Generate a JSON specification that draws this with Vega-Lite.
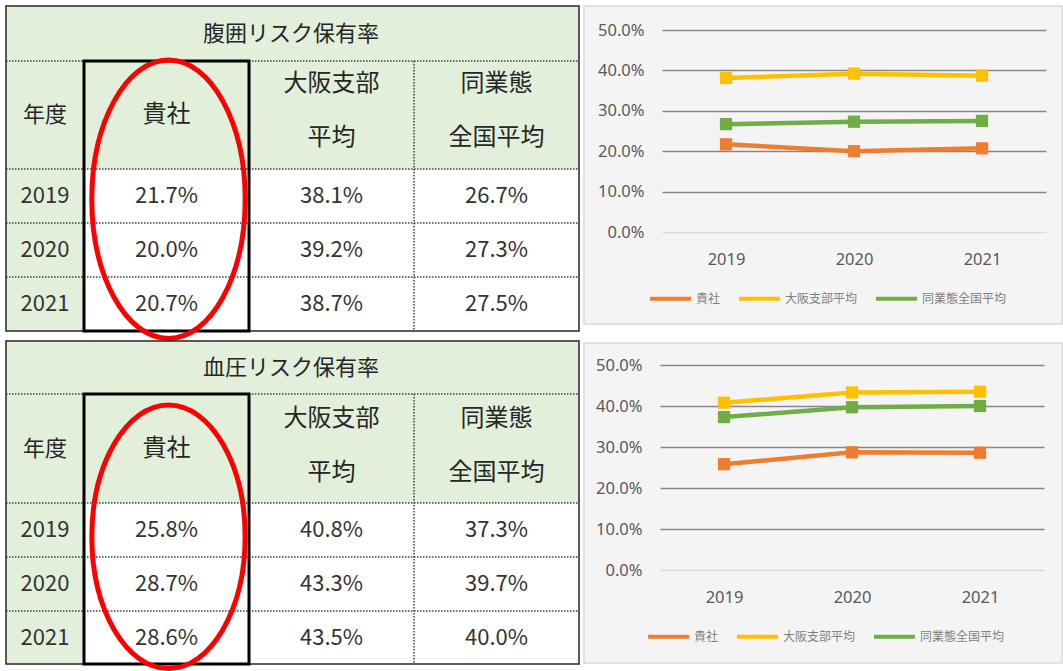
{
  "$schema": "https://vega.github.io/schema/vega-lite/v6.json",
  "background": "white",
  "padding": {"left": 5, "top": 5, "right": 0, "bottom": 0},
  "datasets": {
    "cells": [
      {"tbl": "A", "kind": "title", "c0": 0, "c1": 4, "r0": 0, "r1": 1, "cm": 2.255, "rm": 0.5, "label": "腹囲リスク保有率"},
      {"tbl": "A", "kind": "corner", "c0": 0, "c1": 1, "r0": 1, "r1": 2, "cm": 0.5, "rm": 1.5, "label": "年度"},
      {"tbl": "A", "kind": "head", "c0": 1, "c1": 2, "r0": 1, "r1": 2, "cm": 1.5, "rm": 1.5, "label": "貴社"},
      {"tbl": "A", "kind": "head2", "c0": 2, "c1": 3, "r0": 1, "r1": 2, "cm": 2.5, "rm": 1.5, "label": "大阪支部\n平均"},
      {"tbl": "A", "kind": "head2", "c0": 3, "c1": 4, "r0": 1, "r1": 2, "cm": 3.5, "rm": 1.5, "label": "同業態\n全国平均"},
      {"tbl": "A", "kind": "year", "c0": 0, "c1": 1, "r0": 2, "r1": 3, "cm": 0.5, "rm": 2.5, "label": "2019"},
      {"tbl": "A", "kind": "value", "c0": 1, "c1": 2, "r0": 2, "r1": 3, "cm": 1.5, "rm": 2.5, "label": "21.7%"},
      {"tbl": "A", "kind": "value", "c0": 2, "c1": 3, "r0": 2, "r1": 3, "cm": 2.5, "rm": 2.5, "label": "38.1%"},
      {"tbl": "A", "kind": "value", "c0": 3, "c1": 4, "r0": 2, "r1": 3, "cm": 3.5, "rm": 2.5, "label": "26.7%"},
      {"tbl": "A", "kind": "year", "c0": 0, "c1": 1, "r0": 3, "r1": 4, "cm": 0.5, "rm": 3.5, "label": "2020"},
      {"tbl": "A", "kind": "value", "c0": 1, "c1": 2, "r0": 3, "r1": 4, "cm": 1.5, "rm": 3.5, "label": "20.0%"},
      {"tbl": "A", "kind": "value", "c0": 2, "c1": 3, "r0": 3, "r1": 4, "cm": 2.5, "rm": 3.5, "label": "39.2%"},
      {"tbl": "A", "kind": "value", "c0": 3, "c1": 4, "r0": 3, "r1": 4, "cm": 3.5, "rm": 3.5, "label": "27.3%"},
      {"tbl": "A", "kind": "year", "c0": 0, "c1": 1, "r0": 4, "r1": 5, "cm": 0.5, "rm": 4.5, "label": "2021"},
      {"tbl": "A", "kind": "value", "c0": 1, "c1": 2, "r0": 4, "r1": 5, "cm": 1.5, "rm": 4.5, "label": "20.7%"},
      {"tbl": "A", "kind": "value", "c0": 2, "c1": 3, "r0": 4, "r1": 5, "cm": 2.5, "rm": 4.5, "label": "38.7%"},
      {"tbl": "A", "kind": "value", "c0": 3, "c1": 4, "r0": 4, "r1": 5, "cm": 3.5, "rm": 4.5, "label": "27.5%"},
      {"tbl": "B", "kind": "title", "c0": 0, "c1": 4, "r0": 0, "r1": 1, "cm": 2.255, "rm": 0.5, "label": "血圧リスク保有率"},
      {"tbl": "B", "kind": "corner", "c0": 0, "c1": 1, "r0": 1, "r1": 2, "cm": 0.5, "rm": 1.5, "label": "年度"},
      {"tbl": "B", "kind": "head", "c0": 1, "c1": 2, "r0": 1, "r1": 2, "cm": 1.5, "rm": 1.5, "label": "貴社"},
      {"tbl": "B", "kind": "head2", "c0": 2, "c1": 3, "r0": 1, "r1": 2, "cm": 2.5, "rm": 1.5, "label": "大阪支部\n平均"},
      {"tbl": "B", "kind": "head2", "c0": 3, "c1": 4, "r0": 1, "r1": 2, "cm": 3.5, "rm": 1.5, "label": "同業態\n全国平均"},
      {"tbl": "B", "kind": "year", "c0": 0, "c1": 1, "r0": 2, "r1": 3, "cm": 0.5, "rm": 2.5, "label": "2019"},
      {"tbl": "B", "kind": "value", "c0": 1, "c1": 2, "r0": 2, "r1": 3, "cm": 1.5, "rm": 2.5, "label": "25.8%"},
      {"tbl": "B", "kind": "value", "c0": 2, "c1": 3, "r0": 2, "r1": 3, "cm": 2.5, "rm": 2.5, "label": "40.8%"},
      {"tbl": "B", "kind": "value", "c0": 3, "c1": 4, "r0": 2, "r1": 3, "cm": 3.5, "rm": 2.5, "label": "37.3%"},
      {"tbl": "B", "kind": "year", "c0": 0, "c1": 1, "r0": 3, "r1": 4, "cm": 0.5, "rm": 3.5, "label": "2020"},
      {"tbl": "B", "kind": "value", "c0": 1, "c1": 2, "r0": 3, "r1": 4, "cm": 1.5, "rm": 3.5, "label": "28.7%"},
      {"tbl": "B", "kind": "value", "c0": 2, "c1": 3, "r0": 3, "r1": 4, "cm": 2.5, "rm": 3.5, "label": "43.3%"},
      {"tbl": "B", "kind": "value", "c0": 3, "c1": 4, "r0": 3, "r1": 4, "cm": 3.5, "rm": 3.5, "label": "39.7%"},
      {"tbl": "B", "kind": "year", "c0": 0, "c1": 1, "r0": 4, "r1": 5, "cm": 0.5, "rm": 4.5, "label": "2021"},
      {"tbl": "B", "kind": "value", "c0": 1, "c1": 2, "r0": 4, "r1": 5, "cm": 1.5, "rm": 4.5, "label": "28.6%"},
      {"tbl": "B", "kind": "value", "c0": 2, "c1": 3, "r0": 4, "r1": 5, "cm": 2.5, "rm": 4.5, "label": "43.5%"},
      {"tbl": "B", "kind": "value", "c0": 3, "c1": 4, "r0": 4, "r1": 5, "cm": 3.5, "rm": 4.5, "label": "40.0%"}
    ],
    "lines": [
      {"tbl": "A", "c0": 0, "c1": 4, "r0": 1, "r1": 1},
      {"tbl": "A", "c0": 0, "c1": 4, "r0": 2, "r1": 2},
      {"tbl": "A", "c0": 0, "c1": 4, "r0": 3, "r1": 3},
      {"tbl": "A", "c0": 0, "c1": 4, "r0": 4, "r1": 4},
      {"tbl": "A", "c0": 3, "c1": 3, "r0": 1, "r1": 5},
      {"tbl": "B", "c0": 0, "c1": 4, "r0": 1, "r1": 1},
      {"tbl": "B", "c0": 0, "c1": 4, "r0": 2, "r1": 2},
      {"tbl": "B", "c0": 0, "c1": 4, "r0": 3, "r1": 3},
      {"tbl": "B", "c0": 0, "c1": 4, "r0": 4, "r1": 4},
      {"tbl": "B", "c0": 3, "c1": 3, "r0": 1, "r1": 5}
    ],
    "boxes": [
      {"tbl": "A", "kind": "outer", "c0": 0, "c1": 4, "r0": 0, "r1": 5},
      {"tbl": "A", "kind": "focus", "c0": 1, "c1": 2, "r0": 1, "r1": 5},
      {"tbl": "B", "kind": "outer", "c0": 0, "c1": 4, "r0": 0, "r1": 5},
      {"tbl": "B", "kind": "focus", "c0": 1, "c1": 2, "r0": 1, "r1": 5}
    ],
    "ellipses": [
      {"tbl": "A", "cm": 1.512, "rm": 2.561},
      {"tbl": "B", "cm": 1.512, "rm": 2.626}
    ],
    "chart": [
      {"tbl": "A", "year": "2019", "series": "貴社", "value": 0.217},
      {"tbl": "A", "year": "2020", "series": "貴社", "value": 0.200},
      {"tbl": "A", "year": "2021", "series": "貴社", "value": 0.207},
      {"tbl": "A", "year": "2019", "series": "大阪支部平均", "value": 0.381},
      {"tbl": "A", "year": "2020", "series": "大阪支部平均", "value": 0.392},
      {"tbl": "A", "year": "2021", "series": "大阪支部平均", "value": 0.387},
      {"tbl": "A", "year": "2019", "series": "同業態全国平均", "value": 0.267},
      {"tbl": "A", "year": "2020", "series": "同業態全国平均", "value": 0.273},
      {"tbl": "A", "year": "2021", "series": "同業態全国平均", "value": 0.275},
      {"tbl": "B", "year": "2019", "series": "貴社", "value": 0.258},
      {"tbl": "B", "year": "2020", "series": "貴社", "value": 0.287},
      {"tbl": "B", "year": "2021", "series": "貴社", "value": 0.286},
      {"tbl": "B", "year": "2019", "series": "大阪支部平均", "value": 0.408},
      {"tbl": "B", "year": "2020", "series": "大阪支部平均", "value": 0.433},
      {"tbl": "B", "year": "2021", "series": "大阪支部平均", "value": 0.435},
      {"tbl": "B", "year": "2019", "series": "同業態全国平均", "value": 0.373},
      {"tbl": "B", "year": "2020", "series": "同業態全国平均", "value": 0.397},
      {"tbl": "B", "year": "2021", "series": "同業態全国平均", "value": 0.400}
    ]
  },
  "bounds": "full",
  "spacing": 3,
  "hconcat": [
    {
      "bounds": "flush",
      "spacing": 10,
      "vconcat": [
        {
          "width": 573, "height": 325,
          "view": {"stroke": null},
          "layer": [
            {"data": {"name": "cells"}, "transform": [{"filter": "datum.tbl === 'A'"}],
             "mark": {"type": "rect", "strokeWidth": 0},
             "encoding": {
               "x": {"field": "c0", "type": "quantitative", "scale": {"domain": [0, 1, 2, 3, 4], "range": [0, 78, 243, 408, 573], "zero": false, "nice": false}, "axis": null},
               "x2": {"field": "c1"},
               "y": {"field": "r0", "type": "quantitative", "scale": {"domain": [0, 1, 2, 3, 4, 5], "range": [0, 55, 163, 217, 271, 325], "zero": false, "nice": false}, "axis": null},
               "y2": {"field": "r1"},
               "fill": {"field": "kind", "type": "nominal", "scale": {"domain": ["title", "corner", "head", "head2", "year", "value"], "range": ["#E2EFDA", "#E2EFDA", "#E2EFDA", "#E2EFDA", "#E2EFDA", "#FFFFFF"]}, "legend": null}
             }},
            {"data": {"name": "lines"}, "transform": [{"filter": "datum.tbl === 'A'"}],
             "mark": {"type": "rule", "color": "#404040", "strokeWidth": 1.5, "strokeDash": [1.5, 1.5]},
             "encoding": {
               "x": {"field": "c0", "type": "quantitative"}, "x2": {"field": "c1"},
               "y": {"field": "r0", "type": "quantitative"}, "y2": {"field": "r1"}
             }},
            {"data": {"name": "boxes"}, "transform": [{"filter": "datum.tbl === 'A' && datum.kind === 'outer'"}],
             "mark": {"type": "rect", "filled": false, "stroke": "#262626", "strokeWidth": 1.5},
             "encoding": {
               "x": {"field": "c0", "type": "quantitative"}, "x2": {"field": "c1"},
               "y": {"field": "r0", "type": "quantitative"}, "y2": {"field": "r1"}
             }},
            {"data": {"name": "boxes"}, "transform": [{"filter": "datum.tbl === 'A' && datum.kind === 'focus'"}],
             "mark": {"type": "rect", "filled": false, "stroke": "#000000", "strokeWidth": 3},
             "encoding": {
               "x": {"field": "c0", "type": "quantitative"}, "x2": {"field": "c1"},
               "y": {"field": "r0", "type": "quantitative"}, "y2": {"field": "r1"}
             }},
            {"data": {"name": "cells"}, "transform": [{"filter": "datum.tbl === 'A' && datum.kind === 'title'"}],
             "mark": {"type": "text", "font": "Noto Sans CJK JP", "fontSize": 22, "color": "#262626", "baseline": "middle", "align": "center"},
             "encoding": {"x": {"field": "cm", "type": "quantitative"}, "y": {"field": "rm", "type": "quantitative"}, "text": {"field": "label"}}},
            {"data": {"name": "cells"}, "transform": [{"filter": "datum.tbl === 'A' && datum.kind === 'corner'"}],
             "mark": {"type": "text", "font": "Noto Sans CJK JP", "fontSize": 22, "color": "#262626", "baseline": "middle", "align": "center"},
             "encoding": {"x": {"field": "cm", "type": "quantitative"}, "y": {"field": "rm", "type": "quantitative"}, "text": {"field": "label"}}},
            {"data": {"name": "cells"}, "transform": [{"filter": "datum.tbl === 'A' && datum.kind === 'head'"}],
             "mark": {"type": "text", "font": "Noto Sans CJK JP", "fontSize": 24, "color": "#262626", "baseline": "middle", "align": "center"},
             "encoding": {"x": {"field": "cm", "type": "quantitative"}, "y": {"field": "rm", "type": "quantitative"}, "text": {"field": "label"}}},
            {"data": {"name": "cells"}, "transform": [{"filter": "datum.tbl === 'A' && datum.kind === 'head2'"}],
             "mark": {"type": "text", "font": "Noto Sans CJK JP", "fontSize": 24, "color": "#262626", "baseline": "middle", "align": "center", "lineBreak": "\n", "lineHeight": 54, "dy": -31},
             "encoding": {"x": {"field": "cm", "type": "quantitative"}, "y": {"field": "rm", "type": "quantitative"}, "text": {"field": "label"}}},
            {"data": {"name": "cells"}, "transform": [{"filter": "datum.tbl === 'A' && (datum.kind === 'year' || datum.kind === 'value')"}],
             "mark": {"type": "text", "font": "Noto Sans CJK JP", "fontSize": 22, "color": "#333333", "baseline": "middle", "align": "center"},
             "encoding": {"x": {"field": "cm", "type": "quantitative"}, "y": {"field": "rm", "type": "quantitative"}, "text": {"field": "label"}}},
            {"data": {"name": "ellipses"}, "transform": [{"filter": "datum.tbl === 'A'"}],
             "mark": {"type": "point", "shape": "M -0.551 0 A 0.551 1 0 1 0 0.551 0 A 0.551 1 0 1 0 -0.551 0 Z", "size": 77507, "filled": false, "stroke": "#FF0000", "strokeWidth": 5, "opacity": 1},
             "encoding": {"x": {"field": "cm", "type": "quantitative"}, "y": {"field": "rm", "type": "quantitative"}}}
          ]
        },
        {
          "width": 573, "height": 323,
          "view": {"stroke": null},
          "layer": [
            {"data": {"name": "cells"}, "transform": [{"filter": "datum.tbl === 'B'"}],
             "mark": {"type": "rect", "strokeWidth": 0},
             "encoding": {
               "x": {"field": "c0", "type": "quantitative", "scale": {"domain": [0, 1, 2, 3, 4], "range": [0, 78, 243, 408, 573], "zero": false, "nice": false}, "axis": null},
               "x2": {"field": "c1"},
               "y": {"field": "r0", "type": "quantitative", "scale": {"domain": [0, 1, 2, 3, 4, 5], "range": [0, 53, 162, 216, 270, 323], "zero": false, "nice": false}, "axis": null},
               "y2": {"field": "r1"},
               "fill": {"field": "kind", "type": "nominal", "scale": {"domain": ["title", "corner", "head", "head2", "year", "value"], "range": ["#E2EFDA", "#E2EFDA", "#E2EFDA", "#E2EFDA", "#E2EFDA", "#FFFFFF"]}, "legend": null}
             }},
            {"data": {"name": "lines"}, "transform": [{"filter": "datum.tbl === 'B'"}],
             "mark": {"type": "rule", "color": "#404040", "strokeWidth": 1.5, "strokeDash": [1.5, 1.5]},
             "encoding": {
               "x": {"field": "c0", "type": "quantitative"}, "x2": {"field": "c1"},
               "y": {"field": "r0", "type": "quantitative"}, "y2": {"field": "r1"}
             }},
            {"data": {"name": "boxes"}, "transform": [{"filter": "datum.tbl === 'B' && datum.kind === 'outer'"}],
             "mark": {"type": "rect", "filled": false, "stroke": "#262626", "strokeWidth": 1.5},
             "encoding": {
               "x": {"field": "c0", "type": "quantitative"}, "x2": {"field": "c1"},
               "y": {"field": "r0", "type": "quantitative"}, "y2": {"field": "r1"}
             }},
            {"data": {"name": "boxes"}, "transform": [{"filter": "datum.tbl === 'B' && datum.kind === 'focus'"}],
             "mark": {"type": "rect", "filled": false, "stroke": "#000000", "strokeWidth": 3},
             "encoding": {
               "x": {"field": "c0", "type": "quantitative"}, "x2": {"field": "c1"},
               "y": {"field": "r0", "type": "quantitative"}, "y2": {"field": "r1"}
             }},
            {"data": {"name": "cells"}, "transform": [{"filter": "datum.tbl === 'B' && datum.kind === 'title'"}],
             "mark": {"type": "text", "font": "Noto Sans CJK JP", "fontSize": 22, "color": "#262626", "baseline": "middle", "align": "center"},
             "encoding": {"x": {"field": "cm", "type": "quantitative"}, "y": {"field": "rm", "type": "quantitative"}, "text": {"field": "label"}}},
            {"data": {"name": "cells"}, "transform": [{"filter": "datum.tbl === 'B' && datum.kind === 'corner'"}],
             "mark": {"type": "text", "font": "Noto Sans CJK JP", "fontSize": 22, "color": "#262626", "baseline": "middle", "align": "center"},
             "encoding": {"x": {"field": "cm", "type": "quantitative"}, "y": {"field": "rm", "type": "quantitative"}, "text": {"field": "label"}}},
            {"data": {"name": "cells"}, "transform": [{"filter": "datum.tbl === 'B' && datum.kind === 'head'"}],
             "mark": {"type": "text", "font": "Noto Sans CJK JP", "fontSize": 24, "color": "#262626", "baseline": "middle", "align": "center"},
             "encoding": {"x": {"field": "cm", "type": "quantitative"}, "y": {"field": "rm", "type": "quantitative"}, "text": {"field": "label"}}},
            {"data": {"name": "cells"}, "transform": [{"filter": "datum.tbl === 'B' && datum.kind === 'head2'"}],
             "mark": {"type": "text", "font": "Noto Sans CJK JP", "fontSize": 24, "color": "#262626", "baseline": "middle", "align": "center", "lineBreak": "\n", "lineHeight": 54, "dy": -30},
             "encoding": {"x": {"field": "cm", "type": "quantitative"}, "y": {"field": "rm", "type": "quantitative"}, "text": {"field": "label"}}},
            {"data": {"name": "cells"}, "transform": [{"filter": "datum.tbl === 'B' && (datum.kind === 'year' || datum.kind === 'value')"}],
             "mark": {"type": "text", "font": "Noto Sans CJK JP", "fontSize": 22, "color": "#333333", "baseline": "middle", "align": "center"},
             "encoding": {"x": {"field": "cm", "type": "quantitative"}, "y": {"field": "rm", "type": "quantitative"}, "text": {"field": "label"}}},
            {"data": {"name": "ellipses"}, "transform": [{"filter": "datum.tbl === 'B'"}],
             "mark": {"type": "point", "shape": "M -0.582 0 A 0.582 1 0 1 0 0.582 0 A 0.582 1 0 1 0 -0.582 0 Z", "size": 69380, "filled": false, "stroke": "#FF0000", "strokeWidth": 5, "opacity": 1},
             "encoding": {"x": {"field": "cm", "type": "quantitative"}, "y": {"field": "rm", "type": "quantitative"}}}
          ]
        }
      ]
    },
    {
      "bounds": "flush",
      "spacing": 19,
      "vconcat": [
        {
          "width": 478, "height": 318,
          "view": {"fill": "#F4F4F4", "stroke": "#D9D9D9", "strokeWidth": 1.5},
          "data": {"name": "chart"},
          "transform": [{"filter": "datum.tbl === 'A'"}],
          "encoding": {
            "x": {"field": "year", "type": "ordinal", "scale": {"type": "point", "padding": 0.5, "range": [78, 462]},
                  "axis": {"orient": "bottom", "offset": -73, "domain": false, "ticks": false, "labelPadding": 0, "labelAngle": 0, "labelFontSize": 16.5, "labelColor": "#595959", "labelFont": "Noto Sans", "title": null, "grid": false}},
            "y": {"field": "value", "type": "quantitative", "scale": {"domain": [0, 0.5], "range": [226, 24], "nice": false},
                  "axis": {"values": [0, 0.1, 0.2, 0.3, 0.4, 0.5], "format": ".1%", "domain": false, "ticks": false, "offset": -60, "labelPadding": 0, "labelFontSize": 16.5, "labelColor": "#595959", "labelFont": "Noto Sans", "title": null, "grid": true,
                           "gridColor": {"condition": {"test": "datum.value === 0", "value": "#D9D9D9"}, "value": "#868686"}, "gridWidth": 1.3}}
          },
          "layer": [
            {"mark": {"type": "line", "strokeWidth": 4.5},
             "encoding": {"color": {"field": "series", "type": "nominal",
               "scale": {"domain": ["貴社", "大阪支部平均", "同業態全国平均"], "range": ["#ED7D31", "#FFC000", "#70AD47"]},
               "legend": {"orient": "none", "legendX": 64, "legendY": 270, "direction": "horizontal", "title": null, "symbolType": "stroke", "symbolSize": 1681, "symbolStrokeWidth": 4, "labelFontSize": 12, "labelColor": "#808080", "labelFont": "Noto Sans CJK JP", "columnPadding": 10, "labelOffset": 3, "padding": 0}}}},
            {"mark": {"type": "square", "size": 150, "opacity": 1},
             "encoding": {"color": {"field": "series", "type": "nominal", "legend": null}}}
          ]
        },
        {
          "width": 478, "height": 320,
          "view": {"fill": "#F4F4F4", "stroke": "#D9D9D9", "strokeWidth": 1.5},
          "data": {"name": "chart"},
          "transform": [{"filter": "datum.tbl === 'B'"}],
          "encoding": {
            "x": {"field": "year", "type": "ordinal", "scale": {"type": "point", "padding": 0.5, "range": [76, 460]},
                  "axis": {"orient": "bottom", "offset": -74, "domain": false, "ticks": false, "labelPadding": 0, "labelAngle": 0, "labelFontSize": 16.5, "labelColor": "#595959", "labelFont": "Noto Sans", "title": null, "grid": false}},
            "y": {"field": "value", "type": "quantitative", "scale": {"domain": [0, 0.5], "range": [227, 22], "nice": false},
                  "axis": {"values": [0, 0.1, 0.2, 0.3, 0.4, 0.5], "format": ".1%", "domain": false, "ticks": false, "offset": -58, "labelPadding": 0, "labelFontSize": 16.5, "labelColor": "#595959", "labelFont": "Noto Sans", "title": null, "grid": true,
                           "gridColor": {"condition": {"test": "datum.value === 0", "value": "#D9D9D9"}, "value": "#868686"}, "gridWidth": 1.3}}
          },
          "layer": [
            {"mark": {"type": "line", "strokeWidth": 4.5},
             "encoding": {"color": {"field": "series", "type": "nominal",
               "scale": {"domain": ["貴社", "大阪支部平均", "同業態全国平均"], "range": ["#ED7D31", "#FFC000", "#70AD47"]},
               "legend": {"orient": "none", "legendX": 62, "legendY": 271, "direction": "horizontal", "title": null, "symbolType": "stroke", "symbolSize": 1681, "symbolStrokeWidth": 4, "labelFontSize": 12, "labelColor": "#808080", "labelFont": "Noto Sans CJK JP", "columnPadding": 10, "labelOffset": 3, "padding": 0}}}},
            {"mark": {"type": "square", "size": 150, "opacity": 1},
             "encoding": {"color": {"field": "series", "type": "nominal", "legend": null}}}
          ]
        }
      ],
      "resolve": {"scale": {"color": "independent", "x": "independent", "y": "independent"}, "legend": {"color": "independent"}}
    }
  ],
  "resolve": {"scale": {"x": "independent", "y": "independent", "color": "independent", "fill": "independent"}},
  "config": {"view": {"stroke": null}, "font": "Noto Sans CJK JP"}
}
